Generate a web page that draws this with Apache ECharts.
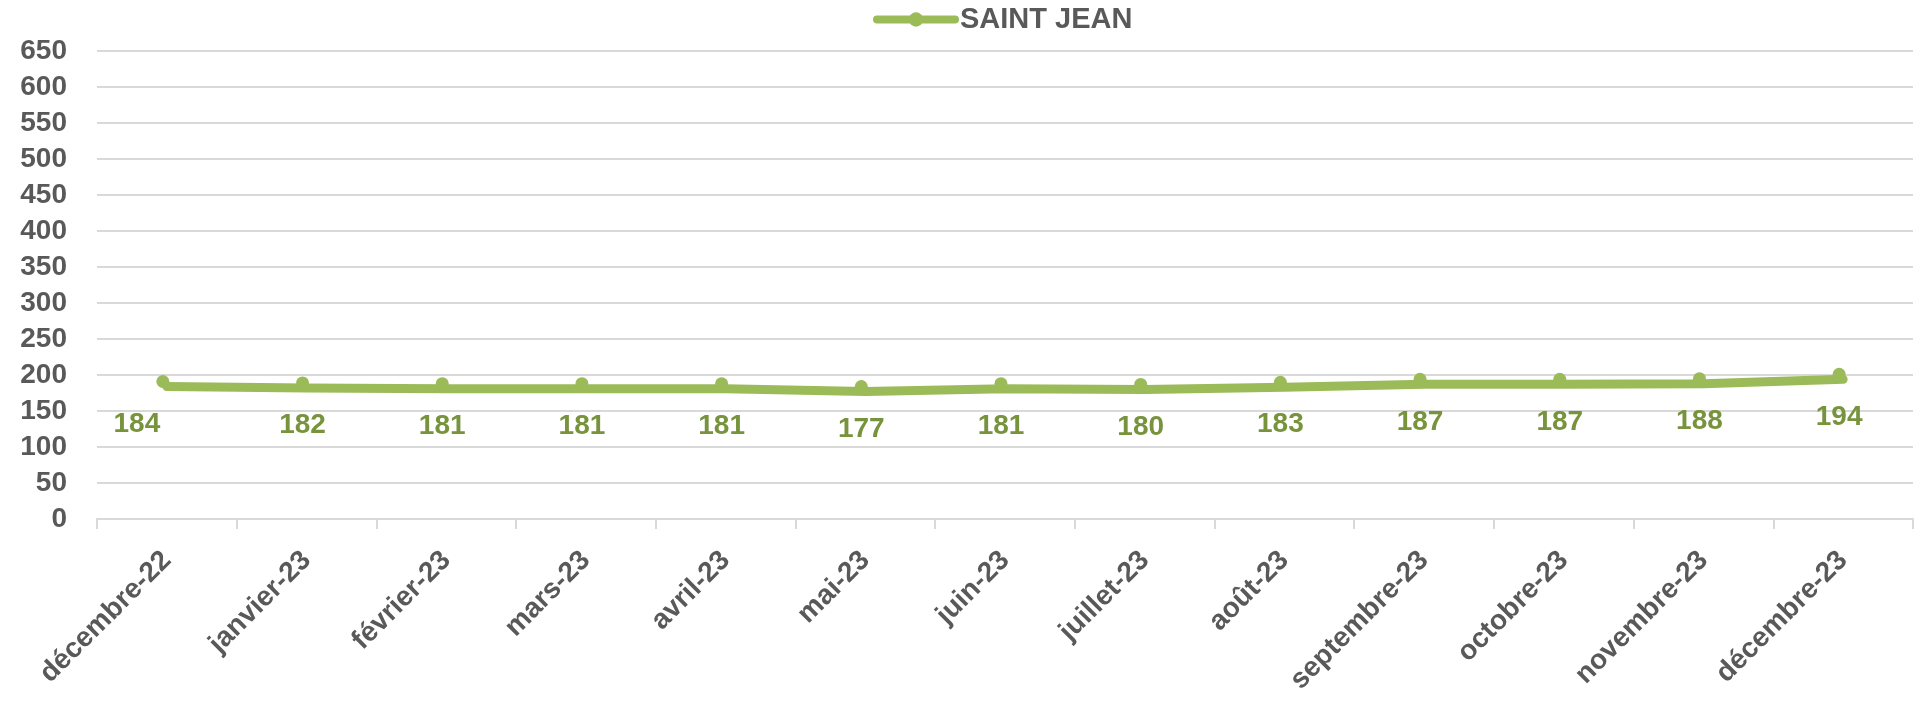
<!DOCTYPE html>
<html>
<head>
<meta charset="utf-8">
<script src="https://cdn.jsdelivr.net/npm/echarts@6/dist/echarts.min.js"></script>
<style>
  html, body { margin: 0; padding: 0; background: #fff; }
  #chart { width: 1917px; height: 715px; }
</style>
</head>
<body>
<div id="chart"></div>
<script>
// Monthly counts for SAINT JEAN
const months = ['décembre-22', 'janvier-23', 'février-23', 'mars-23', 'avril-23', 'mai-23', 'juin-23',
  'juillet-23', 'août-23', 'septembre-23', 'octobre-23', 'novembre-23', 'décembre-23'];
const seriesName = 'SAINT JEAN';
const values = [184, 182, 181, 181, 181, 177, 181, 180, 183, 187, 187, 188, 194];

const FONT = '"Liberation Sans", Arial, sans-serif';
const GREEN = '#9BBB59';
const LABEL_GREEN = '#77933C';
const TEXT_GREY = '#595959';
const GRID_GREY = '#D9D9D9';

const chart = echarts.init(document.getElementById('chart'), null, { renderer: 'canvas' });

chart.setOption({
  animation: false,
  backgroundColor: '#fff',
  textStyle: { fontFamily: FONT },
  legend: {
    data: [seriesName],
    top: 0,
    left: 868,
    itemWidth: 78,
    itemHeight: 18,
    itemGap: 4,
    lineStyle: { width: 8, cap: 'round' },
    textStyle: { fontFamily: FONT, fontWeight: 'bold', fontSize: 29, color: TEXT_GREY }
  },
  grid: { left: 97, right: 4, top: 51, bottom: 196, containLabel: false },
  xAxis: {
    type: 'category',
    data: months,
    boundaryGap: true,
    axisLine: { lineStyle: { color: GRID_GREY, width: 2 } },
    axisTick: { show: true, length: 10, lineStyle: { color: GRID_GREY, width: 2 } },
    axisLabel: {
      rotate: 45, interval: 0, margin: 37,
      fontFamily: FONT, fontWeight: 'bold', fontSize: 28, color: TEXT_GREY
    }
  },
  yAxis: {
    type: 'value',
    min: 0, max: 650, interval: 50,
    axisLine: { show: false },
    axisTick: { show: false },
    splitLine: { lineStyle: { color: GRID_GREY, width: 2 } },
    axisLabel: { margin: 30, fontFamily: FONT, fontWeight: 'bold', fontSize: 28, color: TEXT_GREY }
  },
  series: [{
    name: seriesName,
    type: 'line',
    data: values.map((v, i) => i === 0
      ? { value: v, label: { offset: [-26, 0] } }
      : v),
    symbol: 'circle',
    symbolSize: 13,
    symbolOffset: [-4, -5],
    itemStyle: { color: GREEN },
    lineStyle: { color: GREEN, width: 9, cap: 'round', join: 'round' },
    label: {
      show: true,
      position: 'bottom',
      distance: 22,
      fontFamily: FONT, fontWeight: 'bold', fontSize: 28, color: LABEL_GREEN
    }
  }]
});
</script>
</body>
</html>
